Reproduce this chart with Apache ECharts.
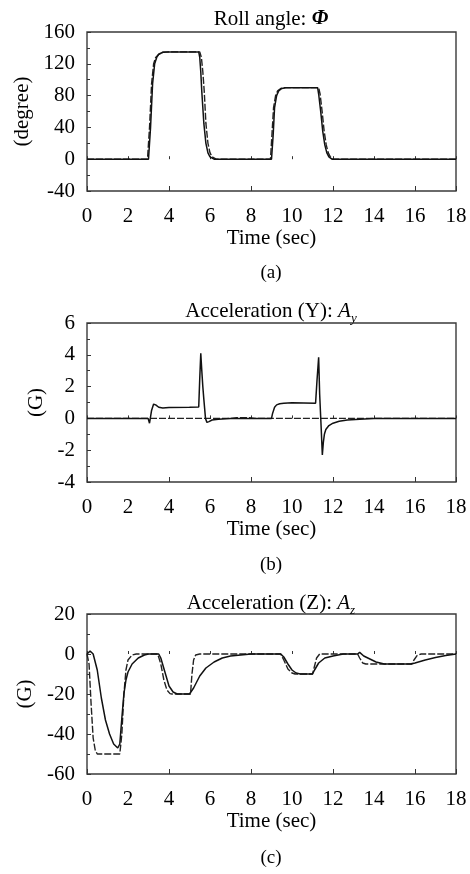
<!DOCTYPE html>
<html><head><meta charset="utf-8">
<script src="https://cdn.jsdelivr.net/npm/echarts@6/dist/echarts.min.js"></script>
<style>html,body{margin:0;padding:0;background:#fff}#c{width:470px;height:874px}</style>
</head><body><div id="c"></div>
<script>
// ---------- data ----------
var xTicks = [0, 2, 4, 6, 8, 10, 12, 14, 16, 18];
var rollTicks = [-40, 0, 40, 80, 120, 160];
var ayTicks = [-4, -2, 0, 2, 4, 6];
var azTicks = [-60, -40, -20, 0, 20];

// (a) Roll angle (degree)
var rollSolidT = [0, 3.0, 3.1, 3.2, 3.3, 3.4, 3.5, 3.7, 4.0, 5.45, 5.5, 5.55, 5.6, 5.7, 5.8, 5.9, 6.0, 6.2, 9.0, 9.08, 9.15, 9.25, 9.35, 9.5, 9.7, 11.25, 11.3, 11.4, 11.5, 11.6, 11.7, 11.8, 11.95, 18];
var rollSolidV = [0, 0, 40, 95, 120, 128, 132, 134.5, 135, 135, 128, 110, 85, 45, 20, 8, 3, 0, 0, 30, 65, 80, 86, 89, 90, 90, 82, 60, 35, 18, 8, 3, 0, 0];
var rollDashT = [0, 2.95, 3.05, 3.15, 3.25, 3.35, 3.5, 3.7, 4.0, 5.5, 5.58, 5.65, 5.72, 5.8, 5.9, 6.0, 6.1, 6.3, 8.95, 9.02, 9.1, 9.2, 9.3, 9.45, 9.65, 11.3, 11.37, 11.47, 11.57, 11.67, 11.77, 11.87, 12.0, 18];
var rollDashV = [0, 0, 40, 95, 120, 128, 132, 134.5, 135, 135, 128, 110, 85, 45, 20, 8, 3, 0, 0, 30, 65, 80, 86, 89, 90, 90, 82, 60, 35, 18, 8, 3, 0, 0];

// (b) Acceleration Y (G)
var aySolidT = [0, 2.98, 3.05, 3.15, 3.25, 3.35, 3.5, 3.7, 4.0, 5.0, 5.45, 5.5, 5.55, 5.6, 5.65, 5.7, 5.78, 5.85, 5.95, 6.1, 6.4, 7.0, 9.0, 9.05, 9.15, 9.25, 9.4, 9.6, 10.0, 11.15, 11.22, 11.3, 11.35, 11.42, 11.48, 11.53, 11.58, 11.65, 11.8, 12.0, 12.3, 12.7, 13.3, 14, 18];
var aySolidV = [0, 0, -0.3, 0.5, 0.9, 0.85, 0.7, 0.65, 0.68, 0.7, 0.72, 2.5, 4.1, 3.0, 2.0, 1.2, 0, -0.25, -0.2, -0.1, -0.05, 0, 0, 0.3, 0.7, 0.85, 0.92, 0.95, 0.98, 0.95, 2.4, 3.85, 1.5, -0.5, -2.3, -1.5, -1.0, -0.7, -0.45, -0.3, -0.18, -0.1, -0.05, 0, 0];
var ayDashT = [0, 7.0, 7.3, 7.6, 7.9, 8.2, 18];
var ayDashV = [0, 0, 0.04, 0.05, 0.04, 0, 0];

// (c) Acceleration Z (G)
var azSolidT = [0, 0.15, 0.3, 0.5, 0.7, 0.9, 1.1, 1.3, 1.5, 1.6, 1.7, 1.8, 1.9, 2.0, 2.2, 2.5, 2.8, 3.0, 3.5, 3.6, 3.8, 4.0, 4.2, 4.4, 5.0, 5.2, 5.5, 5.8, 6.2, 6.6, 7.0, 7.5, 8.0, 9.45, 9.6, 9.8, 10.0, 10.2, 10.4, 10.6, 11.0, 11.1, 11.3, 11.6, 12.0, 12.5, 13.2, 13.3, 13.5, 13.8, 14.1, 14.5, 15.8, 16.0, 16.5, 17.0, 17.5, 18];
var azSolidV = [0, 1.5, 0, -8, -22, -33, -40, -45, -47, -45, -32, -20, -13, -9, -5, -2, -0.5, 0, 0, -2, -9, -16, -19, -20, -20, -17, -11, -7, -4, -2, -1, -0.5, 0, 0, -1.5, -5, -8, -9.5, -10, -10, -10, -8, -4.5, -2, -1, 0, 0, 0.8, -1, -2.5, -4, -5, -5, -4.5, -3, -1.8, -0.8, 0];
var azDashT = [0, 0.1, 0.2, 0.3, 0.4, 0.5, 1.6, 1.7, 1.8, 1.9, 2.0, 2.2, 2.4, 3.45, 3.6, 3.75, 3.9, 4.05, 4.15, 5.05, 5.12, 5.2, 5.3, 5.5, 9.45, 9.6, 9.8, 10.0, 10.15, 11.0, 11.1, 11.2, 11.35, 13.2, 13.3, 13.45, 13.6, 15.85, 15.95, 16.1, 16.3, 18];
var azDashV = [0, -5, -25, -42, -48, -50, -50, -40, -20, -8, -3, -0.5, 0, 0, -5, -13, -18, -19.8, -20, -20, -10, -3, -0.5, 0, 0, -3, -7.5, -9.5, -10, -10, -6, -2, 0, 0, -2, -4.5, -5, -5, -3, -0.8, 0, 0];

// ---------- chart ----------
function pairs(t, v) { return t.map(function (x, i) { return [x, v[i]]; }); }
var FONT = '"Liberation Serif", "DejaVu Serif", serif';
var TXT = '#000';
var FS = 21;
var grids = [
  { left: 87, right: 14, top: 32, height: 159 },
  { left: 87, right: 14, top: 323, height: 159 },
  { left: 87, right: 14, top: 614, height: 160 }
];
var yDefs = [
  { ticks: rollTicks, name: '(degree)', gap: 54 },
  { ticks: ayTicks, name: '(G)', gap: 39 },
  { ticks: azTicks, name: '(G)', gap: 49 }
];
var xAxes = [], yAxes = [];
grids.forEach(function (g, i) {
  g.show = true; g.borderColor = '#3a3a3a'; g.borderWidth = 1.4; g.backgroundColor = '#fff';
  xAxes.push({
    type: 'value', gridIndex: i, min: xTicks[0], max: xTicks[xTicks.length - 1],
    interval: xTicks[1] - xTicks[0],
    name: 'Time (sec)', nameLocation: 'middle', nameGap: 37,
    nameTextStyle: { fontFamily: FONT, fontSize: FS, color: TXT },
    axisLine: { show: false }, splitLine: { show: false },
    axisTick: { show: true, inside: true, length: 3, lineStyle: { color: '#333', width: 1 } },
    axisLabel: { fontFamily: FONT, fontSize: FS, color: TXT, margin: 15 }
  });
  xAxes.push({
    type: 'value', gridIndex: i, min: xTicks[0], max: xTicks[xTicks.length - 1],
    interval: 2 * (xTicks[1] - xTicks[0]), position: 'bottom',
    axisLine: { show: false }, splitLine: { show: false }, axisLabel: { show: false },
    axisTick: { show: true, inside: true, length: 5, lineStyle: { color: '#333', width: 1 } }
  });
  var yt = yDefs[i].ticks;
  yAxes.push({
    type: 'value', gridIndex: i, min: yt[0], max: yt[yt.length - 1], interval: yt[1] - yt[0],
    name: yDefs[i].name, nameLocation: 'middle', nameGap: yDefs[i].gap, nameRotate: 90,
    nameTextStyle: { fontFamily: FONT, fontSize: FS, color: TXT },
    axisLine: { show: false }, splitLine: { show: false },
    axisTick: { show: true, inside: true, length: 4, lineStyle: { color: '#333', width: 1 } },
    minorTick: { show: true, splitNumber: 2, length: 3, lineStyle: { color: '#333', width: 1 } },
    axisLabel: { fontFamily: FONT, fontSize: FS, color: TXT, margin: 12 }
  });
});

function solid(i, t, v) {
  return { type: 'line', xAxisIndex: 2 * i, yAxisIndex: i, data: pairs(t, v), showSymbol: false, symbol: 'none',
    lineStyle: { color: '#111', width: 1.5 }, z: 3, animation: false };
}
function dashed(i, t, v) {
  return { type: 'line', xAxisIndex: 2 * i, yAxisIndex: i, data: pairs(t, v), showSymbol: false, symbol: 'none',
    lineStyle: { color: '#222', width: 1.4, type: [7, 2] }, z: 2, animation: false };
}

var tStyle = { fontFamily: FONT, fontSize: FS, color: TXT, fontWeight: 'normal' };
var rich = {
  n: { fontFamily: FONT, fontSize: FS, color: TXT, lineHeight: 24 },
  b: { fontFamily: FONT, fontSize: FS, color: TXT, fontWeight: 'bold', fontStyle: 'italic', lineHeight: 24 },
  i: { fontFamily: FONT, fontSize: FS, color: TXT, fontStyle: 'italic', lineHeight: 24 },
  s: { fontFamily: FONT, fontSize: 13, color: TXT, fontStyle: 'italic', lineHeight: 24, verticalAlign: 'bottom', padding: [0, 0, -2, 0] }
};
function ttl(text, top, size) {
  return { text: text, left: 271, top: top, textAlign: 'center', padding: 0,
    textStyle: Object.assign({}, tStyle, { fontSize: size || FS, rich: rich }) };
}

var chart = echarts.init(document.getElementById('c'), null, { renderer: 'canvas' });
chart.setOption({
  backgroundColor: '#fff',
  animation: false,
  title: [
    ttl('{n|Roll angle: }{b|Φ}', 7),
    ttl('{n|Acceleration (Y): }{i|A}{s|y}', 299),
    ttl('{n|Acceleration (Z): }{i|A}{s|z}', 591),
    ttl('(a)', 264, 19),
    ttl('(b)', 556, 19),
    ttl('(c)', 849, 19)
  ],
  grid: grids,
  xAxis: xAxes,
  yAxis: yAxes,
  series: [
    dashed(0, rollDashT, rollDashV), solid(0, rollSolidT, rollSolidV),
    dashed(1, ayDashT, ayDashV), solid(1, aySolidT, aySolidV),
    dashed(2, azDashT, azDashV), solid(2, azSolidT, azSolidV)
  ]
});
</script></body></html>
